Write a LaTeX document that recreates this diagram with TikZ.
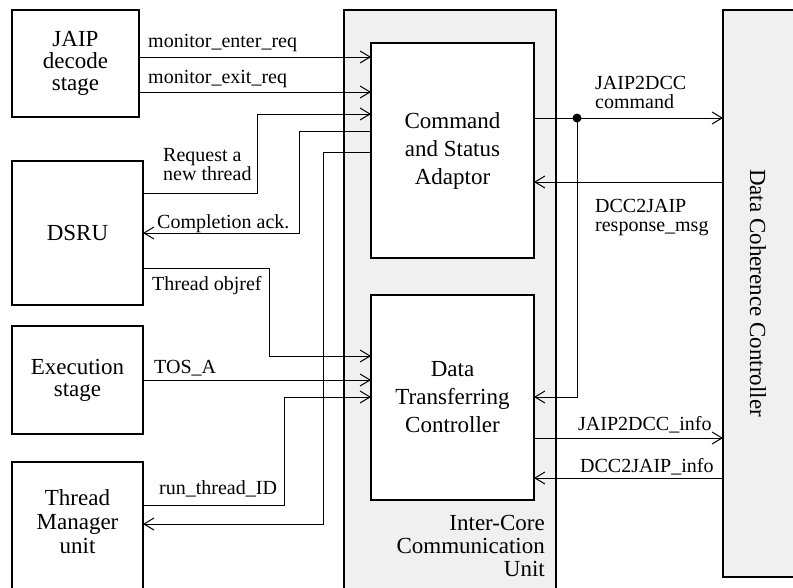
\documentclass[tikz,border=0pt]{standalone}
\usepackage{fontspec}
\setmainfont{Liberation Serif}
\usetikzlibrary{arrows.meta}
\definecolor{bgray}{RGB}{240,240,240}
\begin{document}
\begin{tikzpicture}[x=1pt,y=-1pt,
 outerbox/.style={draw, line width=2.6pt, inner sep=0pt, outer sep=0pt, anchor=north west},
 innerbox/.style={draw, line width=1.3pt, fill=white, inner sep=0pt, outer sep=0pt, anchor=north west},
 ltext/.style={font=\fontsize{23}{22}\selectfont, align=center},
 itext/.style={font=\fontsize{23}{28}\selectfont, align=center},
 lbl/.style={font=\fontsize{20}{19}\selectfont, inner sep=0pt, anchor=base west, align=left},
 wire/.style={line width=1pt},
 arr/.style={wire, -{Straight Barb[length=10pt,width=12pt]}},
]
\useasboundingbox (0,0) rectangle (793,587);
\clip (0,0) rectangle (793,587);
% big containers
\node[outerbox, fill=bgray, minimum width=212pt, minimum height=600pt] (iccu) at (344,10) {};
\node[outerbox, fill=bgray, minimum width=100pt, minimum height=567pt] (dcc) at (723,10) {};
\node[font=\fontsize{23}{23}\selectfont, rotate=-90] (dcctext) at (758,293) {Data Coherence Controller};
\node[font=\fontsize{23}{23}\selectfont, align=right, anchor=east, inner sep=0pt] (iccutext) at (545,546) {Inter-Core\\Communication\\Unit};
% left boxes
\node[outerbox, ltext, minimum width=127pt, minimum height=107pt] (jaip) at (12,10) {JAIP\\decode\\stage};
\node[outerbox, ltext, minimum width=131pt, minimum height=144pt] (dsru) at (12,161) {DSRU};
\node[outerbox, ltext, minimum width=131pt, minimum height=108pt] (exec) at (12,326) {Execution\\stage};
\node[outerbox, minimum width=131pt, minimum height=140pt] (tm) at (12,462) {};
\node[ltext, font=\fontsize{23}{24}\selectfont] (tmtext) at (77.5,522) {Thread\\Manager\\unit};
% inner boxes
\node[innerbox, itext, minimum width=163pt, minimum height=215pt] (cmd) at (371,43) {Command\\and Status\\Adaptor};
\node[innerbox, itext, minimum width=163pt, minimum height=205pt] (dtc) at (371,295) {Data\\Transferring\\Controller};
% connectors left
\draw[arr] (jaip.east |- 0,57) -- (cmd.west |- 0,57);
\draw[arr] (jaip.east |- 0,92) -- (cmd.west |- 0,92);
\draw[arr] (dsru.east |- 0,193) -| (257,114) -- (cmd.west |- 0,114);
\draw[arr] (cmd.west |- 0,131) -| (299,233) -- (dsru.east |- 0,233);
\draw[arr] (cmd.west |- 0,152) -| (323,524) -- (tm.east |- 0,524);
\draw[arr] (dsru.east |- 0,268) -| (269,356) -- (dtc.west |- 0,356);
\draw[arr] (exec.east |- 0,380) -- (dtc.west |- 0,380);
\draw[arr] (tm.east |- 0,505) -| (284,397) -- (dtc.west |- 0,397);
% connectors right
\coordinate (jn) at (577,118);
\draw[arr] (cmd.east |- 0,118) -- (dcc.west |- 0,118);
\draw[arr] (jn) |- (dtc.east |- 0,397);
\fill (jn) circle (4.5pt);
\draw[arr] (dcc.west |- 0,182) -- (cmd.east |- 0,182);
\draw[arr] (dtc.east |- 0,438) -- (dcc.west |- 0,438);
\draw[arr] (dcc.west |- 0,478) -- (dtc.east |- 0,478);
% labels
\node[lbl] (l1) at (148,47) {monitor\_enter\_req};
\node[lbl] (l2) at (148,83) {monitor\_exit\_req};
\node[lbl] (l3) at (163,180) {Request a\\new thread};
\node[lbl] (l4) at (157,228) {Completion ack.};
\node[lbl] (l5) at (152,290) {Thread objref};
\node[lbl] (l6) at (154,373) {TOS\_A};
\node[lbl] (l7) at (159,494) {run\_thread\_ID};
\node[lbl, font=\fontsize{20}{19}\selectfont] (r1) at (595,108) {JAIP2DCC\\command};
\node[lbl, font=\fontsize{20}{19}\selectfont] (r2) at (595,231) {DCC2JAIP\\response\_msg};
\node[lbl] (r3) at (578,430) {JAIP2DCC\_info};
\node[lbl] (r4) at (580,472) {DCC2JAIP\_info};
\end{tikzpicture}
\end{document}
